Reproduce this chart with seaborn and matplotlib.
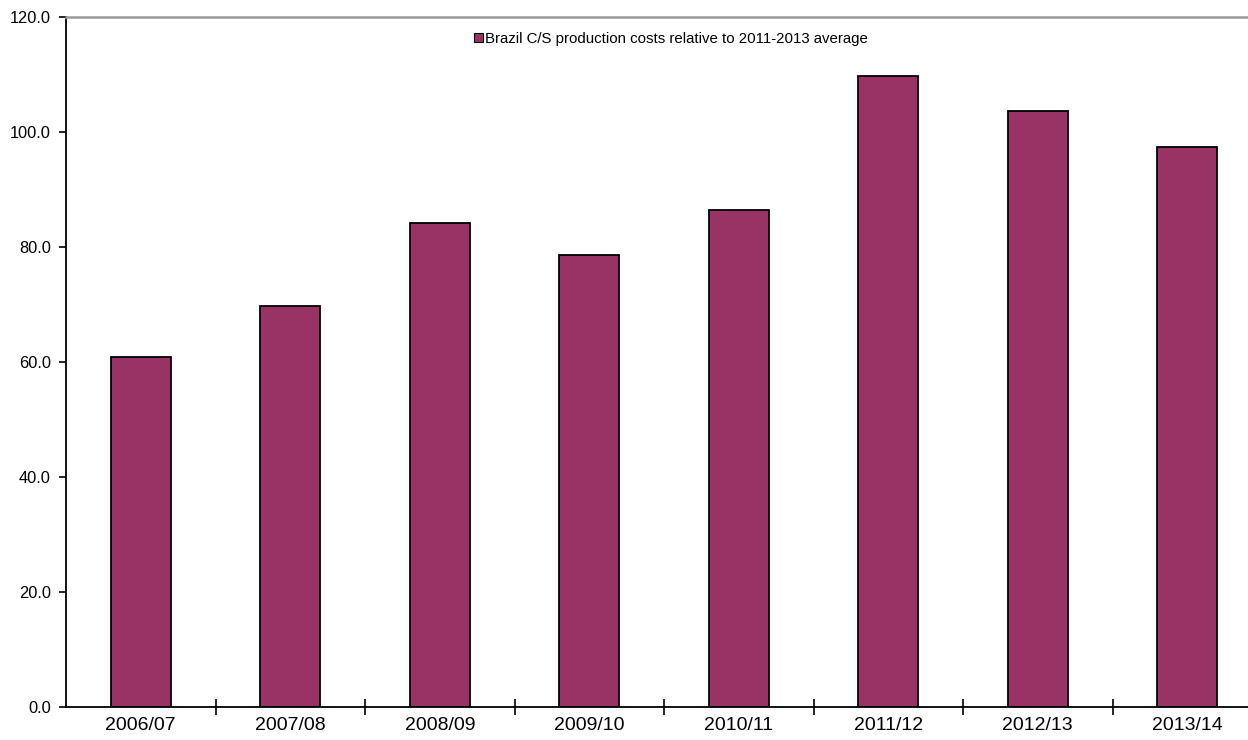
import matplotlib
matplotlib.use("Agg")
import matplotlib.pyplot as plt
import matplotlib.patches as mpatches
from matplotlib.ticker import FixedLocator, FormatStrFormatter
import seaborn as sns
import pandas as pd

seasons = ["2006/07", "2007/08", "2008/09", "2009/10",
           "2010/11", "2011/12", "2012/13", "2013/14"]
cost_index = [60.9, 69.8, 84.1, 78.6, 86.5, 109.7, 103.6, 97.4]
series_label = "Brazil C/S production costs relative to 2011-2013 average"

bar_color = "#993366"

sns.set_theme(style="white")
plt.rcParams["font.family"] = ["Liberation Sans", "DejaVu Sans"]
plt.rcParams["text.color"] = "black"
plt.rcParams["xtick.color"] = "black"
plt.rcParams["ytick.color"] = "black"

df = pd.DataFrame({"season": seasons, "index": cost_index})

fig = plt.figure(figsize=(12.48, 7.40), dpi=100)
# the plot area runs past the right edge of the canvas
ax = fig.add_axes([66 / 1248, 33 / 740, 8 * 149.5 / 1248, 690 / 740])

sns.barplot(data=df, x="season", y="index", color=bar_color, width=0.4,
            edgecolor="black", linewidth=1.3, saturation=1, ax=ax)

ax.set_xlim(-0.5, len(seasons) - 0.5)
ax.set_ylim(0, 120)
ax.set_xlabel("")
ax.set_ylabel("")

ax.yaxis.set_major_locator(FixedLocator([0, 20, 40, 60, 80, 100, 120]))
ax.yaxis.set_major_formatter(FormatStrFormatter("%.1f"))
ax.tick_params(axis="y", which="major", direction="out", length=5, width=1.2,
               color="black", labelcolor="black", labelsize=11.8, pad=6, left=True)

# category labels centred, tick marks on category boundaries
ax.tick_params(axis="x", which="major", length=0, labelsize=14, pad=7,
               labelcolor="black")
ax.xaxis.set_minor_locator(FixedLocator([i + 0.5 for i in range(len(seasons))]))
ax.tick_params(axis="x", which="minor", direction="inout", length=12, width=1.2,
               color="black", bottom=True)

for side in ["left", "bottom"]:
    ax.spines[side].set_color("black")
    ax.spines[side].set_linewidth(1.3)
ax.spines["right"].set_visible(False)
ax.spines["top"].set_color("#9a9a9a")
ax.spines["top"].set_linewidth(1.8)

handle = mpatches.Patch(facecolor=bar_color, edgecolor="black", linewidth=0.8,
                        label=series_label)
fig.legend(handles=[handle], loc="center", bbox_to_anchor=(671 / 1248, 1 - 39 / 740),
           frameon=False, fontsize=10.8, handlelength=0.6, handleheight=0.6,
           handletextpad=0.15, borderpad=0, labelcolor="black")

fig.savefig("out.png", dpi=100)
